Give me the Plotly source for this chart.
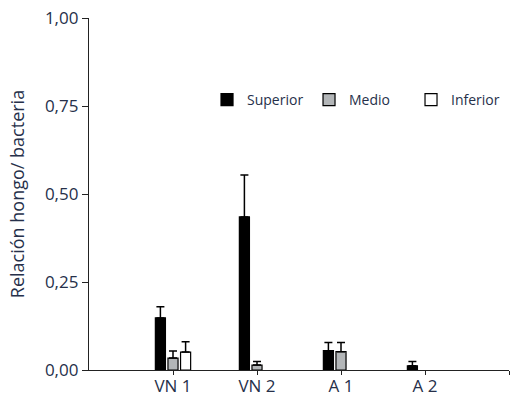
import plotly.graph_objects as go

categories = ["VN 1", "VN 2", "A 1", "A 2"]
series_names = ["Superior", "Medio", "Inferior"]
superior = [0.148, 0.435, 0.055, 0.012]
superior_err = [0.032, 0.119, 0.023, 0.012]
medio = [0.034, 0.014, 0.052, None]
medio_err = [0.020, 0.010, 0.026, 0.0]
inferior = [0.051, None, None, None]
inferior_err = [0.029, 0.0, 0.0, 0.0]
y_ticks = [0, 0.25, 0.5, 0.75, 1.0]

fills = ["#000000", "#b3b6b8", "#ffffff"]
values = [superior, medio, inferior]
errs = [superior_err, medio_err, inferior_err]

FONT = "Open Sans"
TXT = "#26304a"

fig = go.Figure()
for name, v, e, c in zip(series_names, values, errs, fills):
    fig.add_trace(go.Bar(
        x=categories, y=v, name=name,
        marker=dict(color=c, line=dict(color="#000000", width=1.2)),
        error_y=dict(type="data", array=e, arrayminus=[0]*len(e), symmetric=False,
                     color="#000000", thickness=1.5, width=4, visible=True),
    ))

# overlay axis carrying the small x tick marks (category centres and right end)
fig.add_trace(go.Scatter(x=[0], y=[0], xaxis="x2", mode="markers",
                         marker=dict(opacity=0), showlegend=False, hoverinfo="skip"))

fig.update_layout(
    width=513, height=401,
    margin=dict(l=89, r=4, t=18, b=31, autoexpand=False),
    paper_bgcolor="white", plot_bgcolor="white",
    separators=",.",
    barmode="group", bargap=0.55, bargroupgap=0.2,
    font=dict(family=FONT, size=14, color=TXT),
    showlegend=True,
    legend=dict(orientation="h", x=0.281, xanchor="left", y=0.767, yanchor="middle",
                font=dict(family=FONT, size=14, color=TXT),
                bgcolor="rgba(0,0,0,0)", entrywidth=57, traceorder="normal"),
    xaxis=dict(type="category", categoryorder="array", categoryarray=categories,
               range=[-1, 4], showline=True, linecolor="#222", linewidth=1.3,
               ticks="", showgrid=False, zeroline=False, automargin=False,
               tickfont=dict(family=FONT, size=17, color=TXT)),
    xaxis2=dict(overlaying="x", type="linear", range=[-1, 4], anchor="y",
                side="bottom", tickvals=[0, 1, 2, 3, 4], ticktext=["", "", "", "", ""],
                ticks="outside", ticklen=4, tickcolor="#222", tickwidth=1.3,
                showgrid=False, zeroline=False, showline=False, automargin=False),
    yaxis=dict(range=[0, 1], tickvals=y_ticks, tickformat=".2f", showline=True,
               linecolor="#222", linewidth=1.3, ticks="outside", ticklen=6,
               tickcolor="#222", tickwidth=1.3, showgrid=False, zeroline=False,
               automargin=False,
               tickfont=dict(family=FONT, size=17, color=TXT),
               title=dict(text="Relación hongo/ bacteria",
                          font=dict(family=FONT, size=18, color=TXT))),
)

fig.write_html(
    "out.html",
    config={"displayModeBar": False},
    post_script="document.body.style.margin='0';document.body.style.overflow='hidden';",
)
